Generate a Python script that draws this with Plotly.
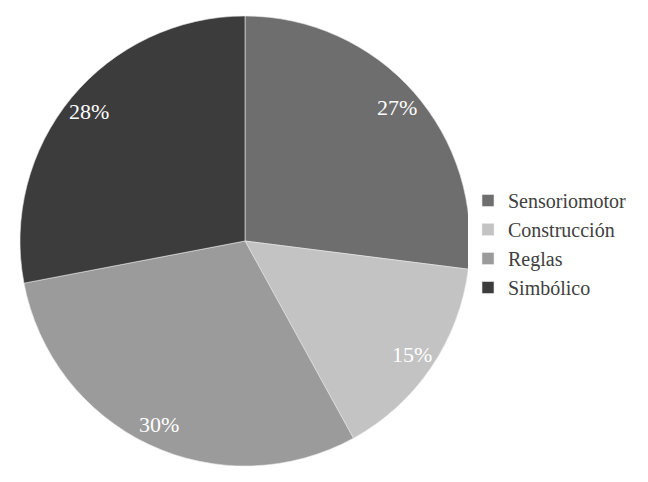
import math
import plotly.graph_objects as go

labels = ['Sensoriomotor', 'Construcción', 'Reglas', 'Simbólico']
values = [27, 15, 30, 28]
colors = ['#6e6e6e', '#c3c3c3', '#9b9b9b', '#3c3c3c']

W, H = 648, 482
off = 8  # page body margin
cx, cy, rad = 245 - off, 241 - off, 225
serif = '"Liberation Serif"'

fig = go.Figure(go.Pie(
    labels=labels,
    values=values,
    sort=False,
    direction='clockwise',
    rotation=0,
    marker=dict(colors=colors, line=dict(color='#e8e8e8', width=0.6)),
    textinfo='none',
    hoverinfo='label+percent',
    domain=dict(x=[(cx - rad) / W, (cx + rad) / W], y=[1 - (cy + rad) / H, 1 - (cy - rad) / H]),
))

# percentage labels near the rim of each slice
total = sum(values)
acc = 0
for v in values:
    mid = (acc + v / 2) / total * 2 * math.pi
    acc += v
    px_ = cx + 0.9 * rad * math.sin(mid)
    py_ = cy - 0.9 * rad * math.cos(mid)
    fig.add_annotation(
        x=px_ / W, y=1 - py_ / H, xref='paper', yref='paper',
        xanchor='center', yanchor='middle',
        text='{:.0f}%'.format(v / total * 100), showarrow=False,
        font=dict(family=serif, size=22, color='white'),
    )

fig.update_layout(
    width=W, height=H,
    margin=dict(l=0, r=0, t=0, b=0, autoexpand=False),
    paper_bgcolor='white',
    plot_bgcolor='white',
    font=dict(family=serif, size=20, color='#404040'),
    legend=dict(x=(468 - off) / W, y=1 - (244 - off) / H, xanchor='left', yanchor='middle',
                itemwidth=30, tracegroupgap=0,
                font=dict(family=serif, size=20, color='#404040')),
)

fig.write_html("out.html")
